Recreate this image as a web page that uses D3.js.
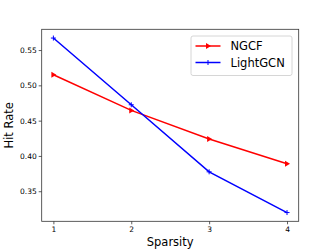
<!doctype html>
<html lang="en">
<head>
<meta charset="utf-8">
<script src="https://d3js.org/d3.v7.min.js"></script>
<style>
  body { margin: 0; background: #fff; }
  text { font-family: "DejaVu Sans", sans-serif; }
</style>
</head>
<body>
<svg width="332" height="249"></svg>
<script>
  // data
  var sparsity = [1, 2, 3, 4];
  var ngcf = [0.515, 0.4645, 0.424, 0.389];
  var lightgcn = [0.567, 0.4725, 0.3775, 0.3198];
  var yTicks = [0.35, 0.40, 0.45, 0.50, 0.55];

  var mLeft = 41.7, mRight = 298.7, mTop = 29.3, mBottom = 221.3;
  var svg = d3.select("svg");

  var x = d3.scaleLinear().domain([0.85, 4.15]).range([mLeft, mRight]);
  var y = d3.scaleLinear().domain([0.3074, 0.5794]).range([mBottom, mTop]);

  // axes
  var xAxis = svg.append("g").attr("transform", "translate(0," + mBottom + ")")
    .call(d3.axisBottom(x).tickValues(sparsity).tickFormat(d3.format("d")).tickSize(3).tickPadding(2));
  var yAxis = svg.append("g").attr("transform", "translate(" + mLeft + ",0)")
    .call(d3.axisLeft(y).tickValues(yTicks).tickFormat(d3.format(".2f")).tickSize(3).tickPadding(2));
  [xAxis, yAxis].forEach(function(a) {
    a.select(".domain").remove();
    a.selectAll("text").style("font-size", "7.5px").attr("fill", "#000");
    a.selectAll("line").attr("stroke", "#333").attr("stroke-width", 0.8);
  });

  svg.append("rect").attr("x", mLeft).attr("y", mTop)
    .attr("width", mRight - mLeft).attr("height", mBottom - mTop)
    .attr("fill", "none").attr("stroke", "#333").attr("stroke-width", 0.8);

  var line = d3.line().x(function(d, i) { return x(sparsity[i]); }).y(function(d) { return y(d); });

  svg.append("path").datum(ngcf).attr("d", line)
    .attr("fill", "none").attr("stroke", "#ff0000").attr("stroke-width", 1.5);
  svg.append("path").datum(lightgcn).attr("d", line)
    .attr("fill", "none").attr("stroke", "#0000ff").attr("stroke-width", 1.5);

  // markers
  svg.selectAll(".tri").data(ngcf).enter().append("path")
    .attr("transform", function(d, i) { return "translate(" + x(sparsity[i]) + "," + y(d) + ")"; })
    .attr("d", "M3,0 L-2,-3 L-2,3 Z").attr("fill", "#ff0000");
  svg.selectAll(".plus").data(lightgcn).enter().append("path")
    .attr("transform", function(d, i) { return "translate(" + x(sparsity[i]) + "," + y(d) + ")"; })
    .attr("d", "M-2.5,0 L2.5,0 M0,-2.5 L0,2.5").attr("stroke", "#0000ff").attr("stroke-width", 1);

  // axis labels
  svg.append("text").attr("x", (mLeft + mRight) / 2).attr("y", 246)
    .attr("text-anchor", "middle").style("font-size", "11.5px").text("Sparsity");
  svg.append("text").attr("transform", "translate(13," + ((mTop + mBottom) / 2) + ") rotate(-90)")
    .attr("text-anchor", "middle").style("font-size", "11.5px").text("Hit Rate");

  // legend
  var lg = svg.append("g");
  lg.append("rect").attr("x", 191).attr("y", 36).attr("width", 101).attr("height", 39.5)
    .attr("rx", 2).attr("fill", "#fff").attr("fill-opacity", 0.8).attr("stroke", "#ccc").attr("stroke-width", 0.8);
  var names = ["NGCF", "LightGCN"], cols = ["#ff0000", "#0000ff"];
  names.forEach(function(n, i) {
    var yy = 46 + i * 16.5;
    lg.append("line").attr("x1", 195.5).attr("x2", 220.5).attr("y1", yy).attr("y2", yy)
      .attr("stroke", cols[i]).attr("stroke-width", 1.5);
    if (i == 0) lg.append("path").attr("transform", "translate(208," + yy + ")").attr("d", "M3,0 L-2,-3 L-2,3 Z").attr("fill", cols[i]);
    else lg.append("path").attr("transform", "translate(208," + yy + ")").attr("d", "M-2.5,0 L2.5,0 M0,-2.5 L0,2.5").attr("stroke", cols[i]);
    lg.append("text").attr("x", 230.5).attr("y", yy + 4.2).style("font-size", "11.5px").text(n);
  });
</script>
</body>
</html>
